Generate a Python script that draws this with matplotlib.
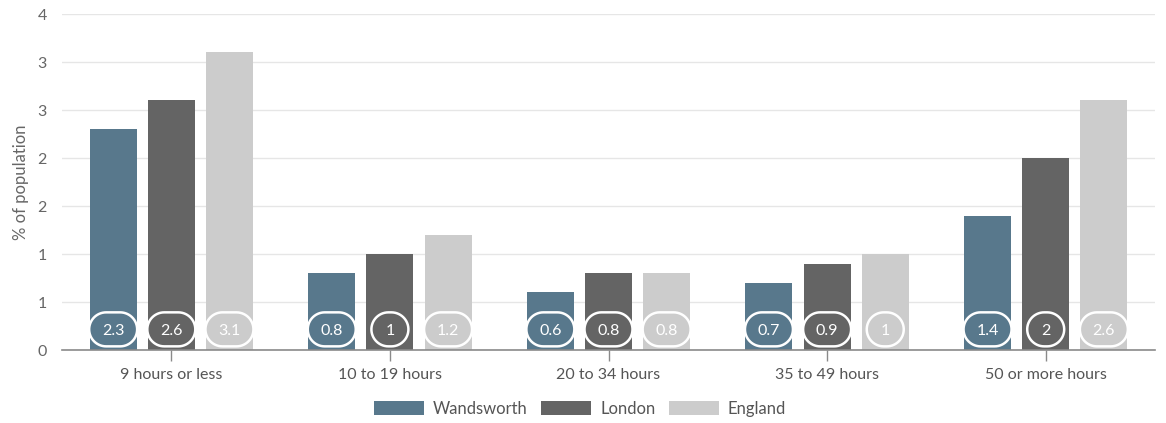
import matplotlib
matplotlib.use("Agg")
import matplotlib.pyplot as plt
import numpy as np
from matplotlib.patches import Polygon
from matplotlib.transforms import ScaledTranslation

categories = ["9 hours or less", "10 to 19 hours", "20 to 34 hours", "35 to 49 hours", "50 or more hours"]
series_names = ["Wandsworth", "London", "England"]
wandsworth = [2.3, 0.8, 0.6, 0.7, 1.4]
london = [2.6, 1.0, 0.8, 0.9, 2.0]
england = [3.1, 1.2, 0.8, 1.0, 2.6]
y_ticks = [0, 0.5, 1.0, 1.5, 2.0, 2.5, 3.0, 3.5]
y_tick_labels = ["0", "1", "1", "2", "2", "3", "3", "4"]
y_label = "% of population"

colors = ["#58788c", "#646464", "#cccccc"]

plt.rcParams['font.family'] = ['Lato', 'DejaVu Sans']

W, H = 1166, 423
fig = plt.figure(figsize=(W / 100, H / 100), dpi=100)
ax = fig.add_axes([62 / W, 1 - 350 / H, (1155 - 62) / W, (350 - 14) / H])

x = np.arange(len(categories))
offsets = [-0.266, 0.0, 0.266]
bar_w = 0.215
all_series = [wandsworth, london, england]

for vals, off, col, name in zip(all_series, offsets, colors, series_names):
    ax.bar(x + off, vals, width=bar_w, color=col, label=name, zorder=2)


def pill_vertices(w, h, n=30):
    r = h / 2
    cx = w / 2 - r
    t1 = np.linspace(np.pi / 2, 3 * np.pi / 2, n)
    left = np.column_stack([-cx + r * np.cos(t1), r * np.sin(t1)])
    t2 = np.linspace(-np.pi / 2, np.pi / 2, n)
    right = np.column_stack([cx + r * np.cos(t2), r * np.sin(t2)])
    return np.vstack([left, right])


# value badges
badge_y = 0.215
for vals, off, col in zip(all_series, offsets, colors):
    for xi, v in zip(x, vals):
        txt = f"{v:g}"
        w_px = 37 if len(txt) == 1 else 48
        h_px = 34
        trans = fig.dpi_scale_trans + ScaledTranslation(xi + off, badge_y, ax.transData)
        verts = pill_vertices(w_px / 100, h_px / 100)
        patch = Polygon(verts, closed=True, transform=trans, facecolor=col,
                        edgecolor="white", linewidth=1.8, zorder=4, clip_on=False)
        ax.add_patch(patch)
        ax.text(xi + off, badge_y, txt, ha="center", va="center_baseline",
                color="white", fontsize=11.5, zorder=5)

ax.set_xlim(-0.5, len(categories) - 0.5)
ax.set_ylim(0, 3.5)
ax.set_yticks(y_ticks)
ax.set_yticklabels(y_tick_labels)
ax.set_xticks(x)
ax.set_xticklabels(categories)

ax.grid(axis="y", color="#e6e6e6", linewidth=1, zorder=0)
ax.set_axisbelow(True)
for sp in ["top", "right", "left"]:
    ax.spines[sp].set_visible(False)
ax.spines["bottom"].set_color("#8a8a8a")
ax.spines["bottom"].set_linewidth(1.2)

ax.tick_params(axis="y", length=0, pad=11, labelsize=11.5, labelcolor="#666666")
ax.tick_params(axis="x", length=8, width=1, color="#8a8a8a", pad=5,
               labelsize=11.5, labelcolor="#555555")

ax.set_ylabel(y_label, fontsize=12, color="#666666", labelpad=6)

leg = fig.legend(loc="center", bbox_to_anchor=(580 / W, 1 - 409 / H), ncol=3,
                 frameon=False, fontsize=12, handlelength=3.0, handleheight=0.95,
                 handletextpad=0.55, columnspacing=0.8, labelcolor="#555555")

fig.savefig("out.png", dpi=100)
